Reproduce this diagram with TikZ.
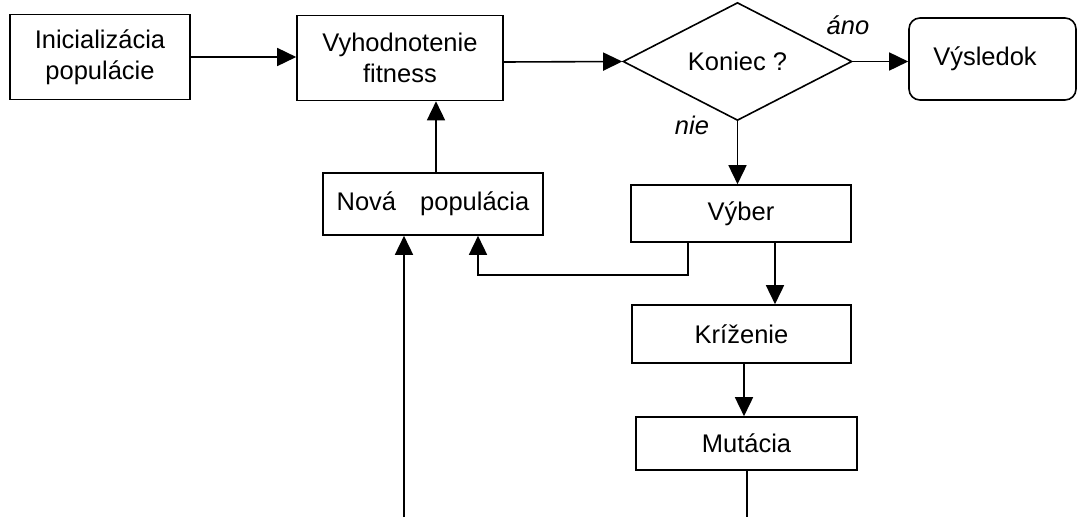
\documentclass[tikz,border=0pt]{standalone}
\usepackage{fontspec}
\setmainfont{Liberation Sans}
\usetikzlibrary{arrows.meta,shapes.geometric}
\begin{document}
\begin{tikzpicture}[x=1pt,y=-1pt,
  txt/.style={font=\fontsize{25.5}{31}\selectfont},
  box/.style={draw,line width=1.6pt,rectangle,inner sep=0pt,align=center,txt},
  arr/.style={line width=1.6pt,-{Triangle[length=19pt,width=18pt]}},
  ln/.style={line width=1.6pt},
  lbl/.style={font=\fontsize{25.5}{29}\selectfont\itshape,inner sep=0pt}]
\useasboundingbox (0,0) rectangle (1078,517);
\node[box,minimum width=180pt,minimum height=85pt] (init) at (100,57) {Inicializácia\\populácie};
\node[box,minimum width=206pt,minimum height=85pt] (eval) at (400,58) {Vyhodnotenie\\fitness};
\node[draw,line width=1.6pt,diamond,inner sep=0pt,minimum width=229pt,minimum height=103pt,txt] (kon) at (737.5,61.5) {Koniec ?};
\node[box,rounded corners=11pt,minimum width=167pt,minimum height=82pt] (res) at (992.5,59) {Výsledok\hspace{15pt}};
\node[box,minimum width=220pt,minimum height=62pt] (nova) at (433,204) {Nová\hspace{24pt}populácia};
\node[box,minimum width=220pt,minimum height=57pt] (vyber) at (741,213.5) {Výber};
\node[box,minimum width=219pt,minimum height=58pt] (kriz) at (741.5,334) {Kríženie};
\node[box,minimum width=221pt,minimum height=53pt] (mut) at (746.5,443.5) {Mutácia};
\node[lbl] (ano) at (848,25) {áno};
\node[lbl] (nie) at (692,125) {nie};
\coordinate (e1) at (190,57);
\coordinate (e2) at (503,62);
\coordinate (n1) at (436,173);
\coordinate (v1) at (688,242);
\coordinate (c1) at (478,275);
\coordinate (v2) at (775,242);
\coordinate (k1) at (744,363);
\coordinate (m1) at (747,470);
\coordinate (bot1) at (747,517);
\coordinate (bot2) at (404,517);
\draw[arr] (e1) -- (e1 -| eval.west);
\draw[arr] (e2) -- (kon.west);
\draw[arr] (kon.east) -- (kon.east -| res.west);
\draw[arr] (kon.south) -- (kon.south |- vyber.north);
\draw[arr] (n1) -- (n1 |- eval.south);
\draw[arr] (v1) |- (c1) -- (c1 |- nova.south);
\draw[arr] (v2) -- (v2 |- kriz.north);
\draw[arr] (k1) -- (k1 |- mut.north);
\draw[ln] (m1) -- (bot1);
\draw[arr] (bot2) -- (bot2 |- nova.south);
\end{tikzpicture}
\end{document}
